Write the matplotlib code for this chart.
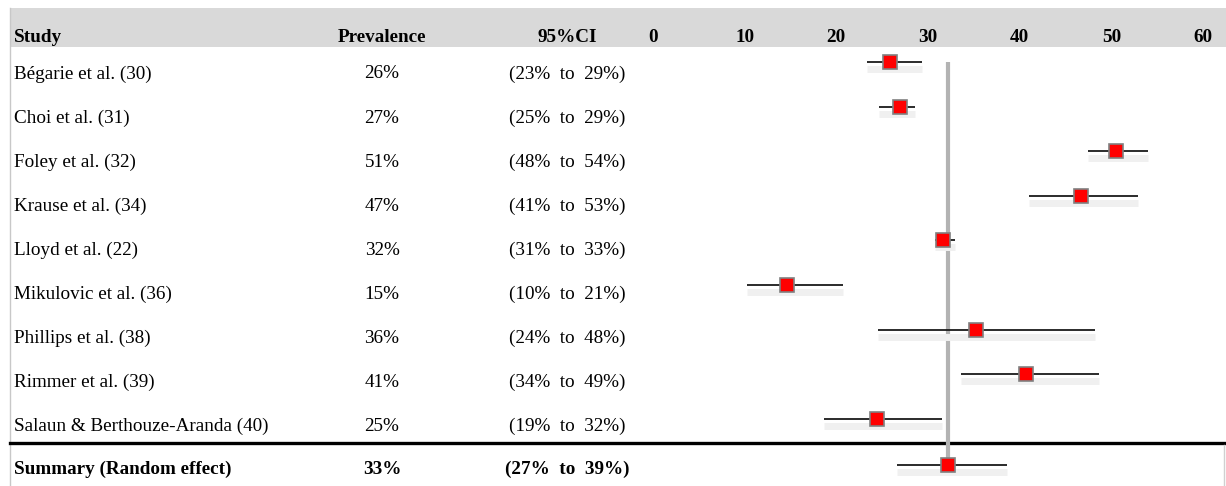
import matplotlib
matplotlib.use("Agg")
import matplotlib.pyplot as plt
from matplotlib.patches import Rectangle

# data
studies = ["Bégarie et al. (30)", "Choi et al. (31)", "Foley et al. (32)",
           "Krause et al. (34)", "Lloyd et al. (22)", "Mikulovic et al. (36)",
           "Phillips et al. (38)", "Rimmer et al. (39)",
           "Salaun & Berthouze-Aranda (40)"]
prev_labels = ["26%", "27%", "51%", "47%", "32%", "15%", "36%", "41%", "25%"]
ci_labels = ["(23%  to  29%)", "(25%  to  29%)", "(48%  to  54%)", "(41%  to  53%)",
             "(31%  to  33%)", "(10%  to  21%)", "(24%  to  48%)", "(34%  to  49%)",
             "(19%  to  32%)"]
est = [25.8, 26.9, 50.5, 46.7, 31.6, 14.6, 35.2, 40.7, 24.4]
lo = [23.3, 24.6, 47.4, 41.0, 30.8, 10.3, 24.5, 33.6, 18.6]
hi = [29.3, 28.6, 54.0, 52.9, 32.9, 20.7, 48.2, 48.6, 31.5]

summary_label = "Summary (Random effect)"
summary_prev = "33%"
summary_ci = "(27%  to  39%)"
summary_est, summary_lo, summary_hi = 32.2, 26.6, 38.6

xticks = [0, 10, 20, 30, 40, 50, 60]

W, H = 1226, 486
serif = "Liberation Serif"
fs = 13.8

fig = plt.figure(figsize=(W / 100, H / 100), dpi=100)

# background / table axes in pixel units
bg = fig.add_axes([0, 0, 1, 1])
bg.set_xlim(0, W)
bg.set_ylim(H, 0)
bg.axis("off")

bg.add_patch(Rectangle((10, 8), W - 10, 39, color="#d9d9d9", lw=0))
bg.plot([10, 10], [8, H], color="#c8c8c8", lw=1)
bg.plot([10, W], [443, 443], color="black", lw=2.4)
bg.plot([W - 2, W - 2], [445, H], color="#d0d0d0", lw=1)

row_y = [74 + 44 * i for i in range(len(studies))]
sum_y = 469
head_y = 38
col_study, col_prev, col_ci = 14, 382, 567

bg.text(col_study, head_y, "Study", ha="left", va="center", family=serif, fontsize=fs, fontweight="bold")
bg.text(col_prev, head_y, "Prevalence", ha="center", va="center", family=serif, fontsize=fs, fontweight="bold")
bg.text(col_ci, head_y, "95%CI", ha="center", va="center", family=serif, fontsize=fs, fontweight="bold")

for y, s, p, c in zip(row_y, studies, prev_labels, ci_labels):
    bg.text(col_study, y, s, ha="left", va="center", family=serif, fontsize=fs)
    bg.text(col_prev, y, p, ha="center", va="center", family=serif, fontsize=fs)
    bg.text(col_ci, y, c, ha="center", va="center", family=serif, fontsize=fs)

bg.text(col_study, sum_y, summary_label, ha="left", va="center", family=serif, fontsize=fs, fontweight="bold")
bg.text(col_prev, sum_y, summary_prev, ha="center", va="center", family=serif, fontsize=fs, fontweight="bold")
bg.text(col_ci, sum_y, summary_ci, ha="center", va="center", family=serif, fontsize=fs, fontweight="bold")

# forest axes: x 0 -> px 653, 60 -> px 1203 ; y in pixels below the header
top_px = 47
ax = fig.add_axes([653 / W, 0, 550 / W, (H - top_px) / H])
ax.patch.set_alpha(0)
ax.set_xlim(0, 60)
ax.set_ylim(H, top_px)
for sp in ax.spines.values():
    sp.set_visible(False)
ax.set_yticks([])
ax.set_xticks(xticks)
ax.xaxis.tick_top()
ax.tick_params(axis="x", length=0, pad=0.5)
for lab in ax.get_xticklabels():
    lab.set_family(serif)
    lab.set_fontsize(fs)
    lab.set_fontweight("bold")

n = len(studies)
mark_y = [62 + 44.6 * i for i in range(n)] + [465]

ax.plot([summary_est, summary_est], [mark_y[0], mark_y[-1]], color="#b3b3b3", lw=3, zorder=1,
        solid_capstyle="butt")

all_est = est + [summary_est]
all_lo = lo + [summary_lo]
all_hi = hi + [summary_hi]
for y, e, l, h in zip(mark_y, all_est, all_lo, all_hi):
    # soft shadow below the CI line
    ax.plot([l, h], [y + 7, y + 7], color="#f0f0f0", lw=5, zorder=1, solid_capstyle="butt")
    ax.plot([l, h], [y, y], color="#1a1a1a", lw=1.3, zorder=2, solid_capstyle="butt")
    ax.plot([e], [y], marker="s", markersize=9.5, markerfacecolor="#ff0000",
            markeredgecolor="#808080", markeredgewidth=1.2, zorder=3)

fig.savefig("out.png", dpi=100)
